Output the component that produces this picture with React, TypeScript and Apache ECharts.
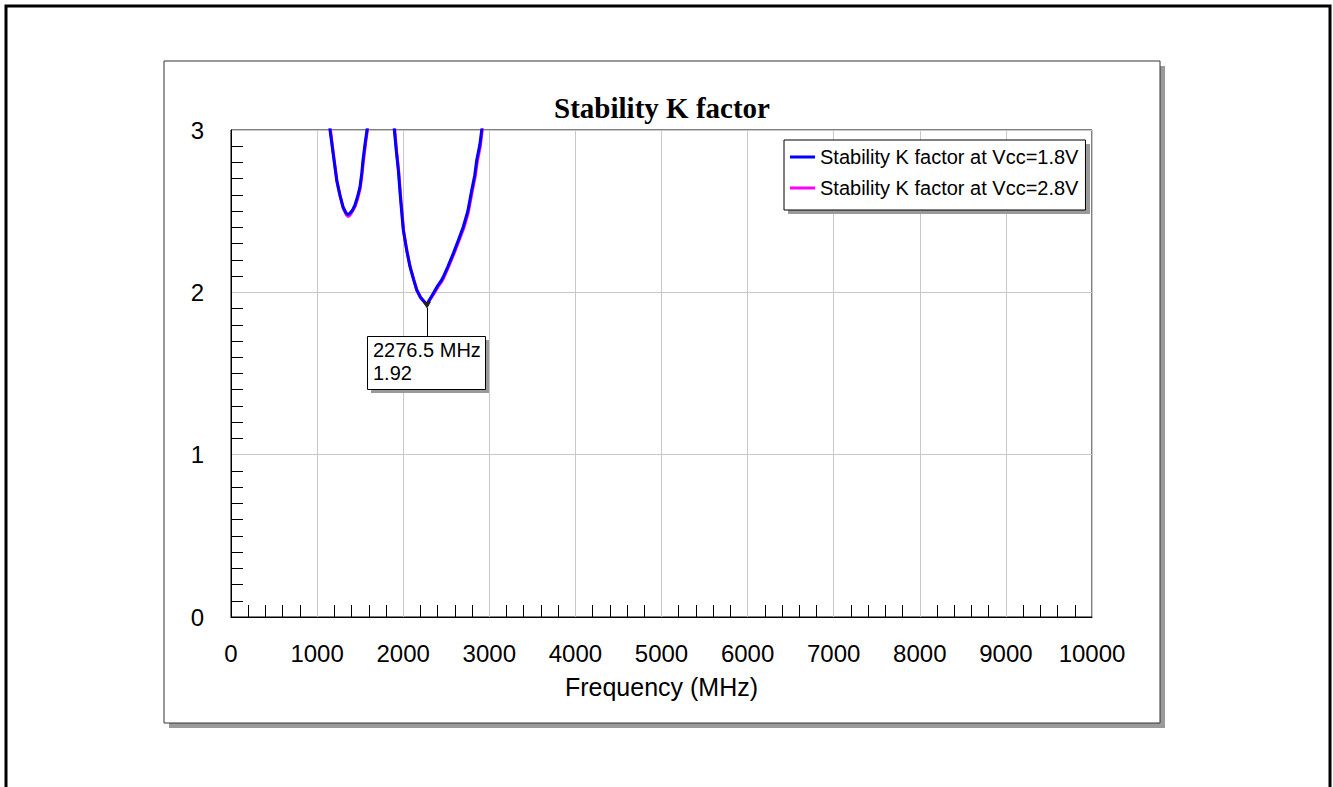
import React, { useEffect, useRef } from "react";
import * as echarts from "echarts";

// ---- data ----
const TITLE = "Stability K factor";
const X_NAME = "Frequency (MHz)";
const SERIES_NAMES = ["Stability K factor at Vcc=1.8V", "Stability K factor at Vcc=2.8V"];
const X_MIN = 0;
const X_MAX = 10000;
const Y_MIN = 0;
const Y_MAX = 3;

// Vcc = 1.8 V (blue)
const freq18 = [
  1080, 1150, 1190, 1228, 1265, 1301, 1335, 1360, 1385, 1410, 1440, 1470, 1498, 1520, 1533, 1558, 1580, 1620,
  1850, 1897, 1920, 1943, 1970, 2001, 2040, 2079, 2120, 2157, 2200, 2240, 2276.5, 2300, 2330, 2350, 2400, 2440,
  2466, 2520, 2582, 2640, 2698, 2750, 2796, 2830, 2854, 2890, 2912, 2960,
];
const k18 = [
  3.4, 3.0, 2.84, 2.69, 2.6, 2.526, 2.49, 2.478, 2.49, 2.505, 2.538, 2.59, 2.649, 2.74, 2.815, 2.92, 3.0, 3.3,
  3.3, 3.0, 2.87, 2.754, 2.57, 2.384, 2.26, 2.158, 2.08, 2.014, 1.97, 1.945, 1.92, 1.95, 1.975, 1.994, 2.04, 2.07,
  2.096, 2.16, 2.24, 2.32, 2.404, 2.5, 2.63, 2.72, 2.815, 2.91, 3.0, 3.3,
];

// Vcc = 2.8 V (magenta)
const freq28 = [
  1080, 1155, 1195, 1232, 1268, 1305, 1338, 1362, 1388, 1412, 1442, 1472, 1500, 1522, 1536, 1561, 1584, 1620,
  1850, 1902, 1925, 1948, 1975, 2006, 2045, 2084, 2125, 2162, 2205, 2245, 2278, 2305, 2335, 2355, 2405, 2445,
  2471, 2525, 2587, 2645, 2703, 2755, 2801, 2835, 2859, 2895, 2918, 2960,
];
const k28 = [
  3.4, 3.0, 2.83, 2.68, 2.59, 2.515, 2.48, 2.465, 2.48, 2.5, 2.53, 2.58, 2.64, 2.73, 2.8, 2.91, 3.0, 3.3,
  3.3, 3.0, 2.86, 2.745, 2.56, 2.375, 2.25, 2.15, 2.075, 2.01, 1.965, 1.94, 1.925, 1.95, 1.975, 1.99, 2.035, 2.065,
  2.09, 2.155, 2.235, 2.315, 2.395, 2.49, 2.62, 2.71, 2.8, 2.9, 3.0, 3.3,
];

// marker annotation
const MARK_FREQ = 2276.5;
const MARK_K = 1.92;
const MARK_TEXT = ["2276.5 MHz", "1.92"];

const SANS = "'Liberation Sans', Arial, sans-serif";
const SERIF = "'Liberation Serif', 'Times New Roman', serif";

export default function App() {
  const ref = useRef<HTMLDivElement>(null);

  useEffect(() => {
    if (!ref.current) return;
    const chart = echarts.init(ref.current, null, { renderer: "svg" });

    const s18 = freq18.map((f, i) => [f, k18[i]]);
    const s28 = freq28.map((f, i) => [f, k28[i]]);

    chart.setOption({
      animation: false,
      backgroundColor: "#fff",
      title: {
        text: TITLE,
        left: 657,
        top: 88,
        textAlign: "center",
        textStyle: { fontFamily: SERIF, fontWeight: "bold", fontSize: 29, color: "#000" },
      },
      grid: {
        left: 231,
        top: 130,
        width: 861,
        height: 487,
        show: true,
        borderColor: "#000",
        borderWidth: 1,
        backgroundColor: "transparent",
      },
      legend: {
        orient: "vertical",
        left: 784,
        top: 140,
        padding: [7, 7, 12, 6],
        itemGap: 11,
        itemWidth: 25,
        itemHeight: 3,
        icon: "rect",
        backgroundColor: "#fff",
        borderColor: "#000",
        borderWidth: 1,
        textStyle: { fontFamily: SANS, fontSize: 20, color: "#000", lineHeight: 20 },
        data: SERIES_NAMES,
      },
      xAxis: {
        type: "value",
        min: X_MIN,
        max: X_MAX,
        interval: 1000,
        name: X_NAME,
        nameLocation: "middle",
        nameGap: 57,
        nameTextStyle: { fontFamily: SANS, fontSize: 25, color: "#000" },
        axisLine: { show: true, lineStyle: { color: "#000", width: 1 } },
        axisTick: { show: false, inside: true },
        minorTick: { show: true, splitNumber: 5, length: 12, lineStyle: { color: "#000", width: 1 } },
        splitLine: { show: true, lineStyle: { color: "#c8c8c8", width: 1 } },
        axisLabel: {
          fontFamily: SANS,
          fontSize: 24,
          color: "#000",
          margin: 24,
          formatter: (v: number) => String(v),
        },
      },
      yAxis: {
        type: "value",
        min: Y_MIN,
        max: Y_MAX,
        interval: 1,
        axisLine: { show: true, lineStyle: { color: "#000", width: 1 } },
        axisTick: { show: false, inside: true },
        minorTick: { show: true, splitNumber: 10, length: 12, lineStyle: { color: "#000", width: 1 } },
        splitLine: { show: true, lineStyle: { color: "#c8c8c8", width: 1 } },
        axisLabel: {
          fontFamily: SANS,
          fontSize: 24,
          color: "#000",
          margin: 27,
          formatter: (v: number) => String(v),
        },
      },
      series: [
        {
          name: SERIES_NAMES[0],
          type: "line",
          data: s18,
          symbol: "none",
          showSymbol: false,
          clip: true,
          z: 3,
          lineStyle: { color: "#0000ff", width: 3 },
          itemStyle: { color: "#0000ff" },
          markPoint: {
            symbol: "triangle",
            symbolRotate: 180,
            symbolSize: [8, 7],
            itemStyle: { color: "#222" },
            label: { show: false },
            data: [{ coord: [MARK_FREQ, MARK_K] }],
          },
        },
        {
          name: SERIES_NAMES[1],
          type: "line",
          data: s28,
          symbol: "none",
          showSymbol: false,
          clip: true,
          z: 2,
          lineStyle: { color: "#ff00ff", width: 3 },
          itemStyle: { color: "#ff00ff" },
        },
      ],
    });

    const p = chart.convertToPixel({ gridIndex: 0 }, [MARK_FREQ, MARK_K]) as number[];
    const px = Math.round(p[0]);
    const py = Math.round(p[1]);
    const boxL = px - 60;
    const boxT = py + 31;
    const boxW = 118;
    const boxH = 53;

    chart.setOption({
      graphic: [
        // outer frame
        {
          type: "rect",
          z: -5,
          shape: { x: 6, y: 6, width: 1324, height: 830 },
          style: { fill: "#fff", stroke: "#000", lineWidth: 3 },
        },
        // panel shadow
        {
          type: "rect",
          z: -4,
          shape: { x: 169, y: 66, width: 996, height: 662 },
          style: { fill: "#9a9a9a" },
        },
        // panel
        {
          type: "rect",
          z: -3,
          shape: { x: 164, y: 61, width: 996, height: 662 },
          style: { fill: "#fff", stroke: "#333", lineWidth: 1 },
        },
        // legend shadow
        {
          type: "rect",
          z: 3,
          shape: { x: 788, y: 144, width: 302, height: 70 },
          style: { fill: "#9a9a9a" },
        },
        // leader line
        {
          type: "line",
          z: 10,
          shape: { x1: px + 0.5, y1: py + 3, x2: px + 0.5, y2: boxT },
          style: { stroke: "#000", lineWidth: 1 },
        },
        // label box shadow
        {
          type: "rect",
          z: 10,
          shape: { x: boxL + 4, y: boxT + 4, width: boxW, height: boxH },
          style: { fill: "#9a9a9a" },
        },
        // label box
        {
          type: "rect",
          z: 11,
          shape: { x: boxL + 0.5, y: boxT + 0.5, width: boxW, height: boxH },
          style: { fill: "#fff", stroke: "#000", lineWidth: 1 },
        },
        {
          type: "text",
          z: 12,
          x: boxL + 6,
          y: boxT + 2,
          style: {
            text: MARK_TEXT.join("\n"),
            font: `20px ${SANS}`,
            lineHeight: 23,
            fill: "#000",
          },
        },
      ],
    });

    return () => chart.dispose();
  }, []);

  return (
    <div
      ref={ref}
      style={{ position: "absolute", left: 0, top: 0, width: 1333, height: 787 }}
    />
  );
}
